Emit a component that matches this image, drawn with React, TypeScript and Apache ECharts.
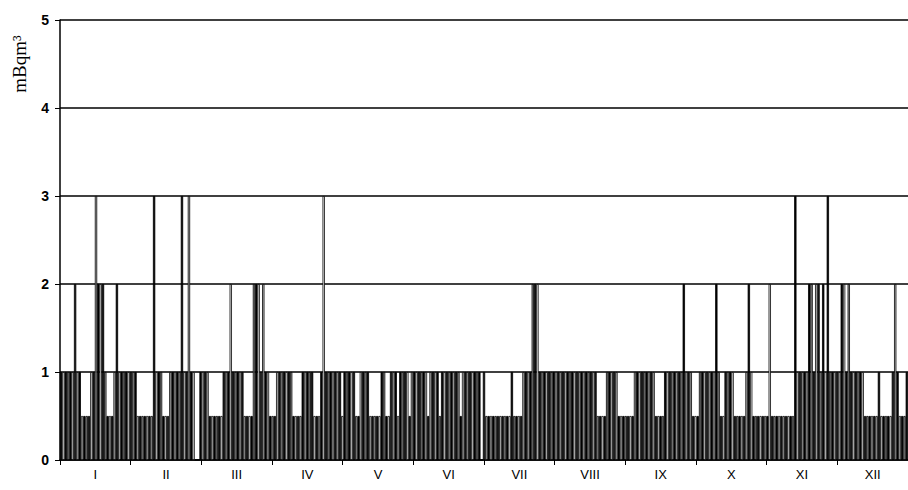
import React, { useEffect, useRef } from 'react';
import * as echarts from 'echarts';

const MONTHS = ['I', 'II', 'III', 'IV', 'V', 'VI', 'VII', 'VIII', 'IX', 'X', 'XI', 'XII'];
const Y_TICKS = [0, 1, 2, 3, 4, 5];
const UNIT = 'mBqm³';

// daily values, month by month
const jan = [1,1,1,1,1,1,2,1,1,0.5,0.5,0.5,0.5,1,1,3,2,2,2,1,0.5,0.5,0.5,1,2,1,1,1,1,1,1];
const feb = [1,1,0.5,0.5,0.5,0.5,0.5,0.5,0.5,3,1,1,1,0.5,0.5,0.5,1,1,1,1,1,3,1,1,3,1,1,0];
const mar = [0,1,1,1,1,0.5,0.5,0.5,0.5,0.5,0.5,1,1,1,2,1,1,1,1,1,0.5,0.5,0.5,0.5,2,2,2,1,2,1,1];
const apr = [0.5,0.5,0.5,1,1,1,1,1,1,1,0.5,0.5,0.5,0.5,1,1,1,1,1,0.5,0.5,0.5,1,3,1,1,1,1,1,1];
const may = [1,0.5,1,1,1,1,1,0.5,0.5,1,1,1,1,0.5,0.5,0.5,0.5,0.5,1,1,0.5,0.5,1,1,1,0.5,1,1,1,1,0.5];
const jun = [1,1,1,1,1,1,1,0.5,1,1,1,1,0.5,1,1,1,1,1,1,1,1,0.5,1,1,1,1,1,1,1,1];
const jul = [0,1,0.5,0.5,0.5,0.5,0.5,0.5,0.5,0.5,0.5,0.5,0.5,1,0.5,0.5,0.5,0.5,1,1,1,1,2,2,2,1,1,1,1,1,1];
const aug = [1,1,1,1,1,1,1,1,1,1,1,1,1,1,1,1,1,1,1,0.5,0.5,0.5,0.5,1,1,1,1,1,0.5,0.5,0.5];
const sep = [0.5,0.5,0.5,0.5,1,1,1,1,1,1,1,1,1,0.5,0.5,0.5,0.5,1,1,1,1,1,1,1,1,2,1,1,1,0.5];
const oct = [0.5,0.5,1,1,1,1,1,1,1,2,1,0.5,0.5,1,1,1,1,0.5,0.5,0.5,0.5,0.5,1,2,1,0.5,0.5,0.5,0.5,0.5,0.5];
const nov = [0.5,2,0.5,0.5,0.5,0.5,0.5,0.5,0.5,0.5,0.5,0.5,3,1,1,1,1,1,2,2,1,2,2,1,2,1,3,1,1,1];
const dec = [1,1,2,2,1,2,1,1,1,1,1,1,0.5,0.5,0.5,0.5,0.5,0.5,1,0.5,0.5,0.5,0.5,0.5,1,2,1,0.5,0.5,0.5,1];

const DAILY = [...jan, ...feb, ...mar, ...apr, ...may, ...jun, ...jul, ...aug, ...sep, ...oct, ...nov, ...dec];
const DAYS = DAILY.map((_, i) => String(i + 1));

const FILLS = ['#000000', '#ffffff', '#000000', '#9a9a9a', '#000000', '#ffffff', '#1a1a1a', '#c8c8c8'];

export default function App() {
  const ref = useRef<HTMLDivElement>(null);
  useEffect(() => {
    if (!ref.current) return;
    const chart = echarts.init(ref.current, null, { renderer: 'svg' });
    chart.setOption({
      animation: false,
      backgroundColor: '#ffffff',
      grid: { left: 60, top: 20, width: 853, height: 440 },
      xAxis: [
        {
          type: 'category',
          data: DAYS,
          show: false,
          boundaryGap: true,
        },
        {
          type: 'category',
          data: MONTHS,
          position: 'bottom',
          boundaryGap: true,
          axisLine: { show: true, lineStyle: { color: '#000', width: 1.5 } },
          axisTick: { show: true, interval: 0, length: 5, lineStyle: { color: '#000', width: 1 } },
          axisLabel: {
            interval: 0,
            color: '#000',
            fontFamily: 'Liberation Sans, Arial, sans-serif',
            fontSize: 13,
            margin: 8,
          },
          splitLine: { show: false },
        },
      ],
      yAxis: {
        type: 'value',
        min: Y_TICKS[0],
        max: Y_TICKS[Y_TICKS.length - 1],
        interval: 1,
        axisLine: { show: true, lineStyle: { color: '#000', width: 1.5 } },
        axisTick: { show: true, length: 5, lineStyle: { color: '#000', width: 1 } },
        axisLabel: {
          color: '#000',
          fontFamily: 'Liberation Sans, Arial, sans-serif',
          fontWeight: 'bold',
          fontSize: 14,
          margin: 11,
        },
        splitLine: { show: true, lineStyle: { color: '#000', width: 1.5 } },
      },
      graphic: [
        {
          type: 'text',
          x: 19,
          y: 64,
          rotation: Math.PI / 2,
          style: {
            text: UNIT,
            fill: '#000',
            font: '19px "Liberation Serif", "Times New Roman", serif',
            align: 'center',
            verticalAlign: 'middle',
          },
        },
      ],
      series: [
        {
          type: 'bar',
          xAxisIndex: 0,
          barCategoryGap: '0%',
          data: DAILY.map((v, i) => ({
            value: v,
            itemStyle: { color: FILLS[i % FILLS.length], borderColor: '#000', borderWidth: 0.8 },
          })),
        },
      ],
    });
    return () => chart.dispose();
  }, []);
  return (
    <div
      ref={ref}
      style={{ position: 'fixed', left: 0, top: 0, width: 908, height: 490 }}
    />
  );
}
